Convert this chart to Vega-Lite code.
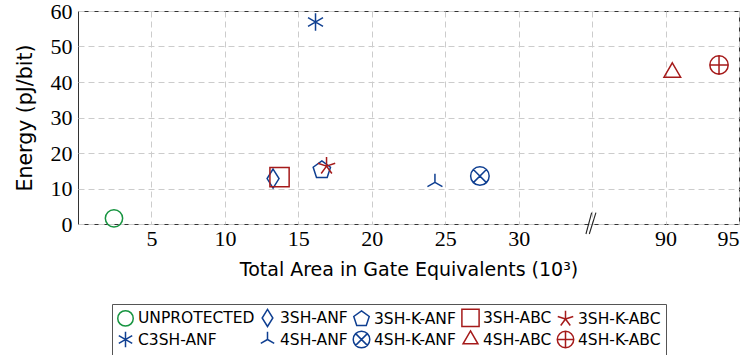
{
  "$schema": "https://vega.github.io/schema/vega-lite/v6.json",
  "width": 661,
  "height": 213,
  "autosize": {"type": "none"},
  "padding": {"left": 78, "top": 11, "right": 12, "bottom": 131},
  "background": "white",
  "config": {
    "view": {"stroke": "#333", "strokeWidth": 1},
    "axis": {
      "domain": false,
      "ticks": false,
      "grid": true,
      "gridColor": "#cccccc",
      "gridDash": [6, 4],
      "gridWidth": 1,
      "labelColor": "#000",
      "titleColor": "#000"
    }
  },
  "datasets": {
    "pts": [
      {"name": "UNPROTECTED", "area": 2.45, "energy": 1.6},
      {"name": "3SH-ANF", "area": 13.28, "energy": 12.8},
      {"name": "3SH-ABC", "area": 13.72, "energy": 13.2},
      {"name": "3SH-K-ANF", "area": 16.6, "energy": 15.2},
      {"name": "3SH-K-ABC", "area": 16.92, "energy": 16.3},
      {"name": "C3SH-ANF", "area": 16.17, "energy": 56.9},
      {"name": "4SH-ANF", "area": 24.3, "energy": 11.75},
      {"name": "4SH-K-ANF", "area": 27.36, "energy": 13.5},
      {"name": "4SH-ABC", "area": 90.46, "energy": 42.7},
      {"name": "4SH-K-ABC", "area": 93.64, "energy": 44.8}
    ],
    "brk": [
      {"area": 34.58, "energy": -2.82, "area2": 34.97, "energy2": 3.18},
      {"area": 34.81, "energy": -2.82, "area2": 35.26, "energy2": 3.18}
    ]
  },
  "encoding": {
    "x": {
      "field": "area",
      "type": "quantitative",
      "scale": {"domain": [0, 38, 88, 95], "range": [0, 558.18, 558.18, 661], "nice": false, "zero": false},
      "axis": {
        "values": [5, 10, 15, 20, 25, 30, 35, 90, 95],
        "labelExpr": "datum.value == 35 ? '' : datum.label",
        "labelOverlap": false,
        "labelFont": "Liberation Serif",
        "labelFontSize": 22,
        "labelPadding": 4,
        "title": "Total Area in Gate Equivalents (10³)",
        "titleFont": "DejaVu Sans",
        "titleFontSize": 19,
        "titleFontWeight": "normal",
        "titlePadding": 11
      }
    },
    "y": {
      "field": "energy",
      "type": "quantitative",
      "scale": {"domain": [0, 60], "nice": false},
      "axis": {
        "values": [0, 10, 20, 30, 40, 50, 60],
        "labelOverlap": false,
        "labelFont": "Liberation Serif",
        "labelFontSize": 22,
        "labelPadding": 6,
        "title": "Energy (pJ/bit)",
        "titleFont": "DejaVu Sans",
        "titleFontSize": 20.5,
        "titleFontWeight": "normal",
        "titlePadding": 15
      }
    }
  },
  "layer": [
    {
      "data": {"name": "pts"},
      "mark": {"type": "point", "filled": false, "strokeWidth": 1.5, "size": 300, "opacity": 1},
      "encoding": {
        "shape": {
          "field": "name",
          "type": "nominal",
          "scale": {
            "domain": ["UNPROTECTED", "3SH-ANF", "3SH-K-ANF", "3SH-ABC", "3SH-K-ABC", "C3SH-ANF", "4SH-ANF", "4SH-K-ANF", "4SH-ABC", "4SH-K-ABC"],
            "range": [
              "circle",
              "M0,-1.1L0.69,0L0,1.1L-0.69,0Z",
              "M0,-1.05L1,-0.324L0.617,0.85L-0.617,0.85L-1,-0.324Z",
              "M-1.11,-1.11H1.11V1.11H-1.11Z",
              "M0,0L0,-1.05M0,0L1,-0.324M0,0L0.617,0.85M0,0L-0.617,0.85M0,0L-1,-0.324",
              "M0,-1L0,1M-0.866,-0.5L0.866,0.5M-0.866,0.5L0.866,-0.5",
              "M0,0L0,-1M0,0L0.866,0.5M0,0L-0.866,0.5",
              "M1.07,0A1.07,1.07 0 1,1 -1.07,0A1.07,1.07 0 1,1 1.07,0ZM-0.757,-0.757L0.757,0.757M-0.757,0.757L0.757,-0.757",
              "M0,-1.11L0.961,0.555L-0.961,0.555Z",
              "M1.06,0A1.06,1.06 0 1,1 -1.06,0A1.06,1.06 0 1,1 1.06,0ZM-1.06,0L1.06,0M0,-1.06L0,1.06"
            ]
          },
          "legend": {
            "title": null,
            "orient": "none",
            "legendX": 34,
            "legendY": 293,
            "direction": "horizontal",
            "columns": 5,
            "columnPadding": 2,
            "rowPadding": -3,
            "symbolSize": 240,
            "symbolStrokeWidth": 1.5,
            "symbolFillColor": "transparent",
            "labelOffset": 4,
            "labelFont": "DejaVu Sans",
            "labelFontSize": 15.5,
            "labelColor": "#000",
            "labelLimit": 300,
            "strokeColor": "#555",
            "padding": 5
          }
        },
        "color": {
          "field": "name",
          "type": "nominal",
          "scale": {
            "domain": ["UNPROTECTED", "3SH-ANF", "3SH-K-ANF", "3SH-ABC", "3SH-K-ABC", "C3SH-ANF", "4SH-ANF", "4SH-K-ANF", "4SH-ABC", "4SH-K-ABC"],
            "range": ["#179440", "#0f3f91", "#0f3f91", "#a51a1a", "#a51a1a", "#0f3f91", "#0f3f91", "#0f3f91", "#a51a1a", "#a51a1a"]
          },
          "legend": {
            "title": null,
            "orient": "none",
            "legendX": 34,
            "legendY": 293,
            "direction": "horizontal",
            "columns": 5,
            "columnPadding": 2,
            "rowPadding": -3,
            "symbolSize": 240,
            "symbolStrokeWidth": 1.5,
            "symbolFillColor": "transparent",
            "labelOffset": 4,
            "labelFont": "DejaVu Sans",
            "labelFontSize": 15.5,
            "labelColor": "#000",
            "labelLimit": 300,
            "strokeColor": "#555",
            "padding": 5
          }
        }
      }
    },
    {
      "data": {"name": "brk"},
      "mark": {"type": "rule", "color": "#222", "strokeWidth": 1.1, "clip": false},
      "encoding": {
        "x2": {"field": "area2"},
        "y2": {"field": "energy2"}
      }
    }
  ]
}
